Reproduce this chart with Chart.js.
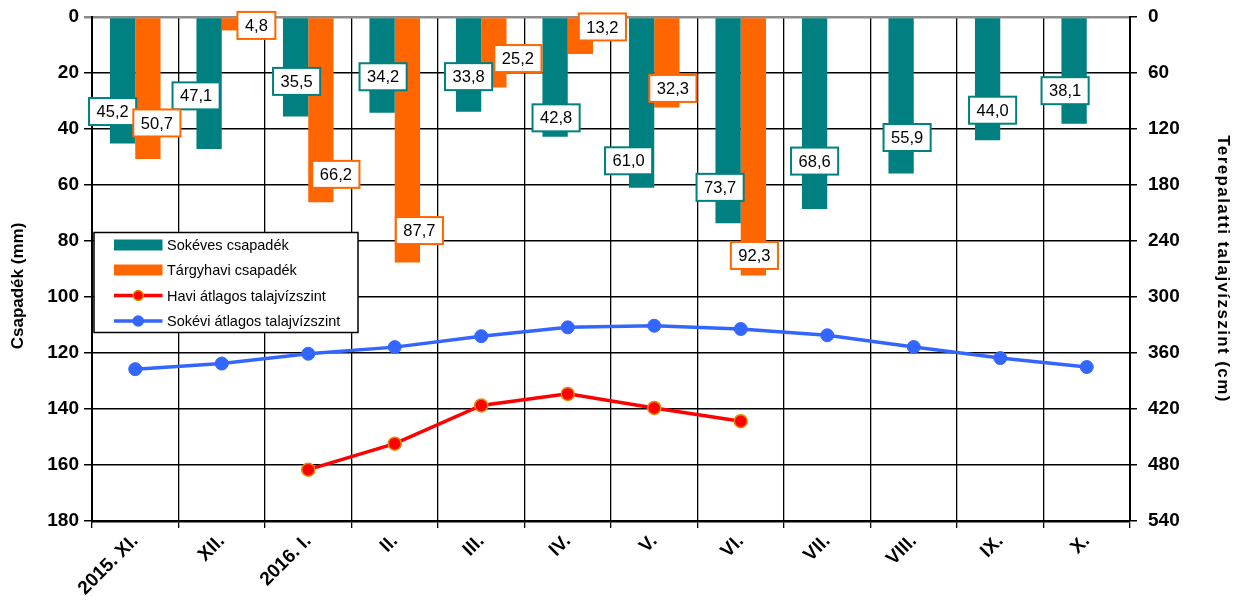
<!DOCTYPE html>
<html>
<head>
<meta charset="utf-8">
<script src="https://cdn.jsdelivr.net/npm/chart.js@4.4.1/dist/chart.umd.min.js"></script>
<style>
  html, body { margin: 0; padding: 0; background: #fff; }
  #wrap { width: 1236px; height: 602px; }
</style>
</head>
<body>
<div id="wrap"><canvas id="c" width="1236" height="602"></canvas></div>
<script>
// Months of the hydrological year
const months = ['2015. XI.', 'XII.', '2016. I.', 'II.', 'III.', 'IV.', 'V.', 'VI.', 'VII.', 'VIII.', 'IX.', 'X.'];

// Precipitation (mm)
const longTermRain = [45.2, 47.1, 35.5, 34.2, 33.8, 42.8, 61.0, 73.7, 68.6, 55.9, 44.0, 38.1];
const monthRain    = [50.7, 4.8, 66.2, 87.7, 25.2, 13.2, 32.3, 92.3, null, null, null, null];

// Groundwater depth below surface (cm)
const monthlyWaterLevel  = [null, null, 485.0, 457.1, 416.2, 403.8, 418.9, 433.1, null, null, null, null];
const longTermWaterLevel = [377.3, 371.3, 360.8, 353.7, 342.0, 332.5, 330.8, 334.3, 341.0, 353.6, 365.4, 375.0];

// Axis ticks
const rainTicks  = [0, 20, 40, 60, 80, 100, 120, 140, 160, 180];
const depthTicks = [0, 60, 120, 180, 240, 300, 360, 420, 480, 540];

// Series names
const seriesNames = ['Sokéves csapadék', 'Tárgyhavi csapadék', 'Havi átlagos talajvízszint', 'Sokévi átlagos talajvízszint'];

// Value label nudges [dx, dy] from each bar's end, in px
const longTermNudge = [[-10,-32],[-13,-53],[1,-35],[1,-36],[0,-35],[1,-19],[-13,-27],[-8,-36],[0,-48],[6,-36],[5,-30],[-9,-33]];
const monthNudge    = [[9,-36],[22,-5],[15,-28],[12,-32],[24,-29],[22,-27],[6,-19],[1,-20]];

const TEAL = '#008080';
const ORANGE = '#FF6600';
const RED = '#FF0000';
const BLUE = '#3366FF';
const FONT = '"Liberation Sans", Arial, sans-serif';

const fmt = v => v.toFixed(1).replace('.', ',');

const decorPlugin = {
  id: 'decor',
  afterDatasetsDraw(chart) {
    const ctx = chart.ctx;
    // value boxes
    const drawBoxes = (dsIndex, nudges, color) => {
      const meta = chart.getDatasetMeta(dsIndex);
      const data = chart.data.datasets[dsIndex].data;
      ctx.save();
      ctx.font = '16.5px ' + FONT;
      ctx.textAlign = 'center';
      ctx.textBaseline = 'middle';
      data.forEach((v, i) => {
        if (v == null) return;
        const el = meta.data[i];
        const n = nudges[i];
        const cx = el.x + n[0], cy = el.y + n[1];
        const txt = fmt(v);
        const w = ctx.measureText(txt).width + 15;
        const h = 27;
        ctx.fillStyle = '#fff';
        ctx.fillRect(cx - w / 2, cy - h / 2, w, h);
        ctx.lineWidth = 2;
        ctx.strokeStyle = color;
        ctx.strokeRect(cx - w / 2, cy - h / 2, w, h);
        ctx.fillStyle = '#000';
        ctx.fillText(txt, cx, cy + 1);
      });
      ctx.restore();
    };
    drawBoxes(0, longTermNudge, TEAL);
    drawBoxes(1, monthNudge, ORANGE);

    // legend box
    const lx = 94, ly = 232.5, lw = 264, lh = 100;
    ctx.save();
    ctx.fillStyle = '#fff';
    ctx.fillRect(lx, ly, lw, lh);
    ctx.lineWidth = 1.5;
    ctx.strokeStyle = '#000';
    ctx.strokeRect(lx, ly, lw, lh);
    const rows = [245, 270, 295.5, 321];
    const sx0 = 114, sx1 = 162.5;
    ctx.fillStyle = TEAL; ctx.fillRect(sx0, rows[0] - 5.5, sx1 - sx0, 11);
    ctx.fillStyle = ORANGE; ctx.fillRect(sx0, rows[1] - 5.5, sx1 - sx0, 11);
    [[RED, rows[2], '#E88A00'], [BLUE, rows[3], BLUE]].forEach(([c, y, bc]) => {
      ctx.strokeStyle = c; ctx.lineWidth = 3.5;
      ctx.beginPath(); ctx.moveTo(sx0, y); ctx.lineTo(sx1, y); ctx.stroke();
      ctx.beginPath(); ctx.arc((sx0 + sx1) / 2, y, 5, 0, Math.PI * 2);
      ctx.fillStyle = c; ctx.fill();
      ctx.lineWidth = 1.5; ctx.strokeStyle = bc; ctx.stroke();
    });
    ctx.fillStyle = '#000';
    ctx.font = '14.5px ' + FONT;
    ctx.textAlign = 'left';
    ctx.textBaseline = 'middle';
    seriesNames.forEach((s, i) => ctx.fillText(s, 167, rows[i] + 1));
    ctx.restore();
  },
  afterDraw(chart) {
    const ctx = chart.ctx;
    ctx.save();
    ctx.fillStyle = '#000';
    ctx.font = 'bold 17px ' + FONT;
    ctx.textAlign = 'center';
    ctx.textBaseline = 'middle';
    // left axis title
    ctx.translate(18, 286);
    ctx.rotate(-Math.PI / 2);
    ctx.fillText('Csapadék (mm)', 0, 0);
    ctx.restore();
    ctx.save();
    ctx.fillStyle = '#000';
    ctx.font = 'bold 17px ' + FONT;
    ctx.textAlign = 'center';
    ctx.textBaseline = 'middle';
    ctx.letterSpacing = '1.4px';
    // right axis title
    ctx.translate(1223, 269);
    ctx.rotate(Math.PI / 2);
    ctx.fillText('Terepalatti talajvízszint (cm)', 0, 0);
    ctx.restore();
  }
};

// vertical scales: fixed width and no extra top/bottom padding for labels
const fixVertical = w => s => { s.width = w; s.paddingTop = 0; s.paddingBottom = 0; };

new Chart(document.getElementById('c'), {
  type: 'bar',
  data: {
    labels: months,
    datasets: [
      { label: seriesNames[0], data: longTermRain, backgroundColor: TEAL, yAxisID: 'y', order: 2,
        categoryPercentage: 0.585, barPercentage: 1.0 },
      { label: seriesNames[1], data: monthRain, backgroundColor: ORANGE, yAxisID: 'y', order: 2,
        categoryPercentage: 0.585, barPercentage: 1.0 },
      { type: 'line', label: seriesNames[2], data: monthlyWaterLevel, yAxisID: 'y2', order: 1,
        borderColor: RED, borderWidth: 3.5, pointRadius: 6.5, pointBackgroundColor: RED,
        pointBorderColor: '#E88A00', pointBorderWidth: 1.5, tension: 0, spanGaps: false },
      { type: 'line', label: seriesNames[3], data: longTermWaterLevel, yAxisID: 'y2', order: 0,
        borderColor: BLUE, borderWidth: 3.5, pointRadius: 6.5, pointBackgroundColor: BLUE,
        pointBorderColor: BLUE, pointBorderWidth: 1, tension: 0 }
    ]
  },
  options: {
    responsive: false,
    devicePixelRatio: 1,
    animation: false,
    layout: { padding: { top: 17, left: 0, right: 0, bottom: 0 } },
    plugins: { legend: { display: false }, tooltip: { enabled: false } },
    scales: {
      x: {
        offset: true,
        grid: { offset: true, color: '#000', lineWidth: 1.3, tickLength: 7, drawOnChartArea: true },
        border: { color: '#000', width: 2.5 },
        ticks: { color: '#000', font: { family: FONT, size: 19, weight: 'bold' },
                 minRotation: 45, maxRotation: 45, autoSkip: false, padding: 2 },
        afterFit: s => { s.height = 81; }
      },
      y: {
        position: 'left',
        reverse: true, min: 0, max: 180,
        afterBuildTicks: s => { s.ticks = rainTicks.map(v => ({ value: v })); },
        grid: { color: c => (c.tick && c.tick.value === 0 ? '#8c8c8c' : '#000'),
                lineWidth: c => (c.tick && c.tick.value === 0 ? 2.5 : 1.5), tickLength: 8 },
        border: { color: '#000', width: 2 },
        ticks: { color: '#000', font: { family: FONT, size: 19, weight: 'bold' }, padding: 5 },
        afterFit: fixVertical(92)
      },
      y2: {
        position: 'right',
        reverse: true, min: 0, max: 540,
        afterBuildTicks: s => { s.ticks = depthTicks.map(v => ({ value: v })); },
        grid: { drawOnChartArea: false, color: '#000', lineWidth: 1.5, tickLength: 7 },
        border: { color: '#000', width: 2 },
        ticks: { color: '#000', font: { family: FONT, size: 19, weight: 'bold' }, padding: 11 },
        afterFit: fixVertical(106)
      }
    }
  },
  plugins: [decorPlugin]
});
</script>
</body>
</html>
